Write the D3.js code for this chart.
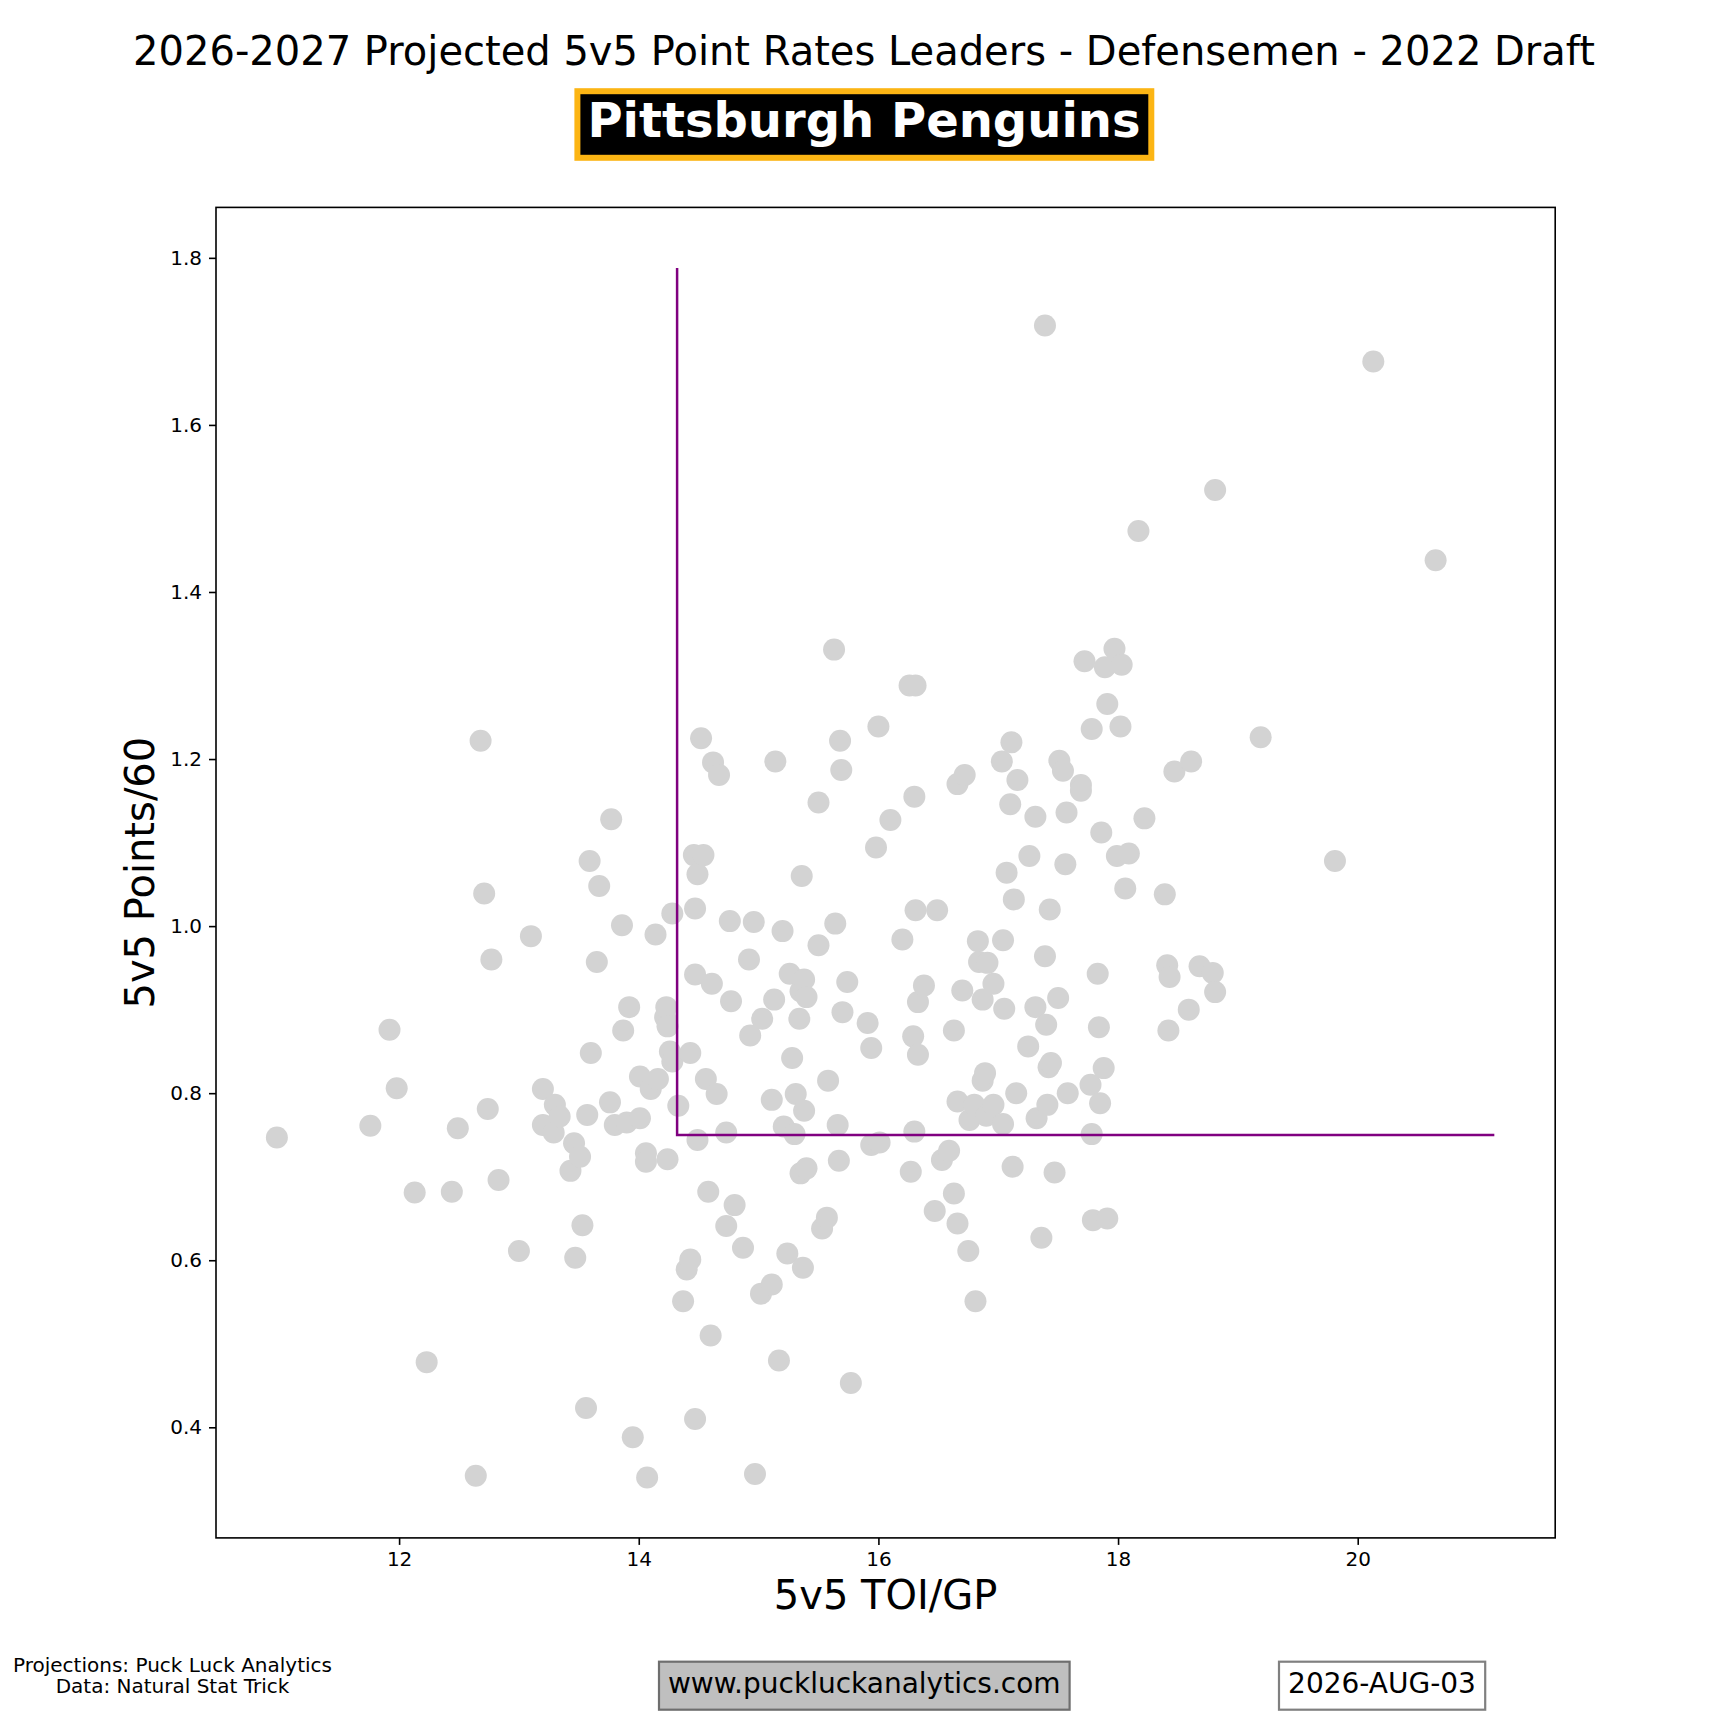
<!DOCTYPE html>
<html>
<head>
<meta charset="utf-8">
<title>2026-2027 Projected 5v5 Point Rates - Pittsburgh Penguins</title>
<script src="https://cdn.jsdelivr.net/npm/d3@7"></script>
<style>
body { margin: 0; background: #fff; }
text { font-family: "DejaVu Sans", sans-serif; }
</style>
</head>
<body>
<script>
// one entry per defenseman: 5v5 TOI per game (x) and 5v5 points per 60 (y)
var toiPerGP = [
  10.98, 11.76, 11.92, 11.98, 12.13, 12.23, 12.44, 12.49, 12.64, 12.68,
  12.71, 12.74, 12.77, 12.83, 13.00, 13.10, 13.20, 13.20, 13.29, 13.30,
  13.34, 13.43, 13.46, 13.47, 13.51, 13.53, 13.56, 13.57, 13.59, 13.60,
  13.65, 13.67, 13.76, 13.77, 13.80, 13.86, 13.87, 13.90, 13.92, 13.95,
  14.01, 14.01, 14.06, 14.06, 14.07, 14.10, 14.14, 14.16, 14.22, 14.23,
  14.24, 14.24, 14.26, 14.28, 14.28, 14.33, 14.37, 14.40, 14.43, 14.43,
  14.46, 14.47, 14.47, 14.47, 14.49, 14.49, 14.52, 14.54, 14.56, 14.58,
  14.60, 14.61, 14.62, 14.65, 14.67, 14.73, 14.73, 14.76, 14.77, 14.80,
  14.87, 14.92, 14.93, 14.96, 14.97, 15.02, 15.03, 15.11, 15.11, 15.13,
  15.14, 15.17, 15.20, 15.21, 15.24, 15.26, 15.28, 15.30, 15.31, 15.34,
  15.35, 15.35, 15.36, 15.37, 15.38, 15.38, 15.40, 15.40, 15.50, 15.50,
  15.53, 15.57, 15.58, 15.63, 15.64, 15.66, 15.67, 15.68, 15.69, 15.70,
  15.74, 15.77, 15.91, 15.94, 15.94, 15.98, 16.00, 16.01, 16.10, 16.20,
  16.26, 16.27, 16.29, 16.30, 16.30, 16.31, 16.31, 16.33, 16.33, 16.38,
  16.47, 16.49, 16.53, 16.59, 16.63, 16.63, 16.66, 16.66, 16.66, 16.70,
  16.72, 16.75, 16.76, 16.80, 16.81, 16.83, 16.84, 16.87, 16.87, 16.89,
  16.90, 16.91, 16.96, 16.96, 17.03, 17.04, 17.04, 17.05, 17.07, 17.10,
  17.11, 17.12, 17.13, 17.15, 17.16, 17.25, 17.26, 17.31, 17.31, 17.32,
  17.36, 17.39, 17.39, 17.40, 17.41, 17.42, 17.43, 17.44, 17.47, 17.50,
  17.51, 17.54, 17.56, 17.57, 17.58, 17.69, 17.69, 17.72, 17.77, 17.78,
  17.78, 17.79, 17.83, 17.84, 17.85, 17.86, 17.88, 17.89, 17.91, 17.91,
  17.97, 17.99, 18.02, 18.03, 18.06, 18.09, 18.17, 18.22, 18.39, 18.41,
  18.42, 18.43, 18.47, 18.59, 18.61, 18.68, 18.79, 18.81, 18.81, 19.19,
  19.81, 20.13, 20.65
];
var pointsPer60 = [
  0.747, 0.761, 0.876, 0.806, 0.681, 0.478, 0.682, 0.758, 0.342, 1.222,
  1.039, 0.781, 0.960, 0.696, 0.611, 0.988, 0.805, 0.762, 0.753, 0.786,
  0.772, 0.707, 0.740, 0.603, 0.724, 0.642, 0.423, 0.774, 1.078, 0.848,
  0.957, 1.048, 0.789, 1.128, 0.762, 1.001, 0.875, 0.765, 0.903, 0.388,
  0.820, 0.770, 0.728, 0.718, 0.340, 0.805, 0.990, 0.817, 0.891, 0.903,
  0.880, 0.721, 0.850, 1.015, 0.838, 0.785, 0.551, 0.589, 0.848, 0.601,
  1.085, 1.021, 0.942, 0.410, 1.062, 0.744, 1.225, 1.085, 0.817, 0.682,
  0.510, 0.931, 1.196, 0.799, 1.181, 0.753, 0.641, 1.006, 0.910, 0.666,
  0.615, 0.960, 0.869, 1.005, 0.344, 0.560, 0.889, 0.792, 0.571, 0.912,
  1.197, 0.480, 0.994, 0.760, 0.608, 0.943, 0.842, 0.751, 0.799, 0.889,
  0.922, 0.704, 1.060, 0.591, 0.936, 0.779, 0.915, 0.710, 1.148, 0.977,
  0.638, 0.651, 0.815, 1.331, 1.003, 0.762, 0.719, 1.222, 1.187, 0.897,
  0.933, 0.453, 0.884, 0.854, 0.738, 1.094, 1.239, 0.741, 1.127, 0.984,
  1.288, 0.706, 0.868, 1.155, 0.754, 1.288, 1.019, 0.909, 0.846, 0.929,
  0.659, 1.019, 0.720, 0.731, 0.875, 0.680, 1.170, 0.790, 0.644, 0.923,
  1.181, 0.611, 0.768, 0.786, 0.551, 0.982, 0.957, 0.912, 0.815, 0.824,
  0.773, 0.956, 0.931, 0.786, 1.197, 0.983, 0.763, 0.901, 1.064, 1.146,
  1.220, 0.712, 1.032, 0.800, 1.175, 0.856, 1.084, 1.131, 0.903, 0.770,
  0.627, 1.719, 0.964, 0.882, 0.786, 0.831, 1.020, 0.836, 0.705, 0.914,
  1.198, 1.186, 1.074, 1.136, 0.800, 1.169, 1.162, 1.317, 0.810, 1.236,
  0.751, 0.648, 0.943, 0.879, 0.788, 1.112, 0.830, 1.310, 1.266, 0.650,
  1.332, 1.084, 1.239, 1.313, 1.045, 1.087, 1.473, 1.129, 1.038, 0.953,
  0.875, 0.939, 1.185, 0.900, 1.197, 0.952, 0.944, 1.522, 0.921, 1.226,
  1.078, 1.676, 1.438
];

// team threshold line (corner at the team marks)
var refLineX = [14.32, 14.32, 21.14];
var refLineY = [1.788, 0.75, 0.75];

var xTicks = [12, 14, 16, 18, 20];
var yTicks = [0.4, 0.6, 0.8, 1.0, 1.2, 1.4, 1.6, 1.8];

var titleText = "2026-2027 Projected 5v5 Point Rates Leaders - Defensemen - 2022 Draft";
var teamName = "Pittsburgh Penguins";
var creditLines = ["Projections: Puck Luck Analytics", "Data: Natural Stat Trick"];
var siteText = "www.puckluckanalytics.com";
var dateText = "2026-AUG-03";

var W = 1728, H = 1728;
var plotL = 216, plotR = 1555.2, plotT = 207.4, plotB = 1537.9;

// 5% margin on each side like the default autoscale
function padded(vals) {
  var e = d3.extent(vals);
  var p = (e[1] - e[0]) * 0.05;
  return [e[0] - p, e[1] + p];
}

var x = d3.scaleLinear()
  .domain(padded(toiPerGP.concat(refLineX)))
  .range([plotL, plotR]);
var y = d3.scaleLinear()
  .domain(padded(pointsPer60.concat(refLineY)))
  .range([plotB, plotT]);

var svg = d3.select("body").append("svg")
  .attr("width", W)
  .attr("height", H);

svg.append("rect").attr("width", W).attr("height", H).attr("fill", "#fff");

// title + team badge
svg.append("text")
  .attr("x", W / 2).attr("y", 65)
  .attr("text-anchor", "middle")
  .attr("font-size", "40px")
  .text(titleText);

svg.append("rect")
  .attr("x", 577.4).attr("y", 91.2)
  .attr("width", 573.9).attr("height", 66.6)
  .attr("fill", "#000")
  .attr("stroke", "#FCB514")
  .attr("stroke-width", 6);

svg.append("text")
  .attr("x", W / 2).attr("y", 137.3)
  .attr("text-anchor", "middle")
  .attr("font-size", "48px")
  .attr("font-weight", "bold")
  .attr("fill", "#fff")
  .text(teamName);

// points
var pts = d3.range(toiPerGP.length).map(function(i) { return [toiPerGP[i], pointsPer60[i]]; });

svg.append("g")
  .selectAll("circle")
  .data(pts)
  .enter()
  .append("circle")
  .attr("cx", function(d) { return x(d[0]); })
  .attr("cy", function(d) { return y(d[1]); })
  .attr("r", 11)
  .attr("fill", "#d3d3d3");

var line = d3.line()
  .x(function(d) { return x(d[0]); })
  .y(function(d) { return y(d[1]); });

svg.append("path")
  .datum(refLineX.map(function(v, i) { return [v, refLineY[i]]; }))
  .attr("d", line)
  .attr("fill", "none")
  .attr("stroke", "#800080")
  .attr("stroke-width", 2.5);

// axes
var xAxis = svg.append("g")
  .attr("transform", "translate(0," + plotB + ")")
  .call(d3.axisBottom(x).tickValues(xTicks).tickSize(7).tickPadding(7).tickFormat(d3.format("d")));

var yAxis = svg.append("g")
  .attr("transform", "translate(" + plotL + ",0)")
  .call(d3.axisLeft(y).tickValues(yTicks).tickSize(7).tickPadding(7).tickFormat(d3.format(".1f")));

[xAxis, yAxis].forEach(function(a) {
  a.select(".domain").remove();
  a.attr("color", "#000");
  a.selectAll("line").attr("stroke-width", 1.6);
  a.selectAll("text")
    .attr("font-size", "20px")
    .attr("font-family", "DejaVu Sans, sans-serif");
});

svg.append("rect")
  .attr("x", plotL).attr("y", plotT)
  .attr("width", plotR - plotL).attr("height", plotB - plotT)
  .attr("fill", "none")
  .attr("stroke", "#000")
  .attr("stroke-width", 1.6);

svg.append("text")
  .attr("x", (plotL + plotR) / 2).attr("y", 1608.5)
  .attr("text-anchor", "middle")
  .attr("font-size", "40px")
  .text("5v5 TOI/GP");

svg.append("text")
  .attr("transform", "translate(154," + ((plotT + plotB) / 2) + ") rotate(-90)")
  .attr("text-anchor", "middle")
  .attr("font-size", "40px")
  .text("5v5 Points/60");

// footer
svg.append("g").selectAll("text")
  .data(creditLines)
  .enter()
  .append("text")
  .attr("x", 172.5)
  .attr("y", function(d, i) { return 1671.7 + i * 21; })
  .attr("text-anchor", "middle")
  .attr("font-size", "20px")
  .text(function(d) { return d; });

svg.append("rect")
  .attr("x", 659).attr("y", 1661.7)
  .attr("width", 410.6).attr("height", 48)
  .attr("fill", "#bfbfbf")
  .attr("stroke", "#6e6e6e")
  .attr("stroke-width", 2.2);

svg.append("text")
  .attr("x", 864.3).attr("y", 1693)
  .attr("text-anchor", "middle")
  .attr("font-size", "28px")
  .text(siteText);

svg.append("rect")
  .attr("x", 1279).attr("y", 1661.7)
  .attr("width", 206.2).attr("height", 48)
  .attr("fill", "#fff")
  .attr("stroke", "#808080")
  .attr("stroke-width", 2.2);

svg.append("text")
  .attr("x", 1382).attr("y", 1693)
  .attr("text-anchor", "middle")
  .attr("font-size", "28px")
  .text(dateText);
</script>
</body>
</html>
